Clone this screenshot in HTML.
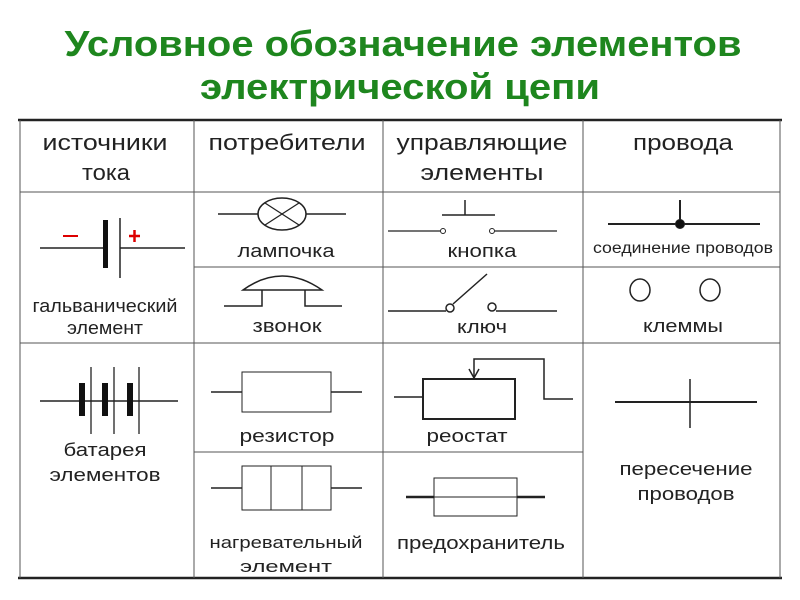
<!DOCTYPE html>
<html><head><meta charset="utf-8"><style>
body{margin:0;background:#fff;width:800px;height:600px;overflow:hidden}
svg{display:block}
text{font-family:"Liberation Sans",sans-serif;fill:#222}
</style></head><body>
<svg width="800" height="600" viewBox="0 0 800 600">
<g text-anchor="middle">
<text x="403" y="56" font-size="36" font-weight="bold" style="fill:#1e861e" textLength="677" lengthAdjust="spacingAndGlyphs">Условное обозначение элементов</text>
<text x="400" y="99" font-size="36" font-weight="bold" style="fill:#1e861e" textLength="400" lengthAdjust="spacingAndGlyphs">электрической цепи</text>
</g>
<g stroke="#222" fill="none">
<line x1="18" y1="120" x2="782" y2="120" stroke-width="2.5"/>
<line x1="18" y1="578" x2="782" y2="578" stroke-width="2.5"/>
<g stroke-width="1" stroke="#555">
<line x1="20" y1="120" x2="20" y2="578"/>
<line x1="780" y1="120" x2="780" y2="578"/>
<line x1="194" y1="120" x2="194" y2="578"/>
<line x1="383" y1="120" x2="383" y2="578"/>
<line x1="583" y1="120" x2="583" y2="578"/>
<line x1="20" y1="192" x2="780" y2="192"/>
<line x1="194" y1="267" x2="780" y2="267"/>
<line x1="20" y1="343" x2="780" y2="343"/>
<line x1="194" y1="452" x2="583" y2="452"/>
</g>
<line x1="40" y1="248" x2="105" y2="248" stroke-width="1.5"/>
<rect x="103" y="220" width="5" height="48" fill="#111" stroke="none"/>
<line x1="120" y1="218" x2="120" y2="278" stroke-width="1.5"/>
<line x1="120" y1="248" x2="185" y2="248" stroke-width="1.5"/>
<line x1="63" y1="236" x2="78" y2="236" stroke="#d00" stroke-width="2"/>
<line x1="129" y1="236" x2="140" y2="236" stroke="#d00" stroke-width="2.5"/>
<line x1="134.5" y1="230" x2="134.5" y2="242" stroke="#d00" stroke-width="2.5"/>
<line x1="218" y1="214" x2="258" y2="214" stroke-width="1.5"/>
<line x1="306" y1="214" x2="346" y2="214" stroke-width="1.5"/>
<ellipse cx="282" cy="214" rx="24" ry="16" stroke-width="1.5"/>
<line x1="265" y1="203" x2="299" y2="225" stroke-width="1.3"/>
<line x1="265" y1="225" x2="299" y2="203" stroke-width="1.3"/>
<path d="M243 290 Q282 262 322 290 Z" stroke-width="1.5"/>
<path d="M224 306 H262 V290 M305 290 V306 H342" stroke-width="1.5"/>
<line x1="388" y1="231" x2="440" y2="231" stroke-width="1.3"/>
<circle cx="443" cy="231" r="2.5" stroke-width="1"/>
<circle cx="492" cy="231" r="2.5" stroke-width="1"/>
<line x1="495" y1="231" x2="557" y2="231" stroke-width="1.3"/>
<line x1="442" y1="215" x2="495" y2="215" stroke-width="1.5"/>
<line x1="465" y1="200" x2="465" y2="215" stroke-width="1.5"/>
<line x1="388" y1="311" x2="446" y2="311" stroke-width="1.5"/>
<circle cx="450" cy="308" r="4" stroke-width="1.5"/>
<circle cx="492" cy="307" r="4" stroke-width="1.5"/>
<line x1="496" y1="311" x2="557" y2="311" stroke-width="1.5"/>
<line x1="453" y1="304" x2="487" y2="274" stroke-width="1.5"/>
<line x1="608" y1="224" x2="760" y2="224" stroke-width="2"/>
<line x1="680" y1="200" x2="680" y2="224" stroke-width="2"/>
<circle cx="680" cy="224" r="4.5" fill="#111"/>
<ellipse cx="640" cy="290" rx="10" ry="11" stroke-width="1.5"/>
<ellipse cx="710" cy="290" rx="10" ry="11" stroke-width="1.5"/>
<line x1="40" y1="401" x2="178" y2="401" stroke-width="1.5"/>
<rect x="79" y="383" width="6" height="33" fill="#111" stroke="none"/>
<rect x="102" y="383" width="6" height="33" fill="#111" stroke="none"/>
<rect x="127" y="383" width="6" height="33" fill="#111" stroke="none"/>
<line x1="91" y1="367" x2="91" y2="434" stroke-width="1.3"/>
<line x1="114" y1="367" x2="114" y2="434" stroke-width="1.3"/>
<line x1="139" y1="367" x2="139" y2="434" stroke-width="1.3"/>
<rect x="242" y="372" width="89" height="40" stroke-width="1"/>
<line x1="211" y1="392" x2="242" y2="392" stroke-width="1.5"/>
<line x1="331" y1="392" x2="362" y2="392" stroke-width="1.5"/>
<rect x="242" y="466" width="89" height="44" stroke-width="1"/>
<line x1="271" y1="466" x2="271" y2="510" stroke-width="1"/>
<line x1="302" y1="466" x2="302" y2="510" stroke-width="1"/>
<line x1="211" y1="488" x2="242" y2="488" stroke-width="1.5"/>
<line x1="331" y1="488" x2="362" y2="488" stroke-width="1.5"/>
<rect x="423" y="379" width="92" height="40" stroke-width="2"/>
<line x1="394" y1="397" x2="423" y2="397" stroke-width="1.5"/>
<path d="M474 378 V359 H544 V399 H573" stroke-width="1.5"/>
<path d="M469 369 L474 378 L479 369" stroke-width="1.5"/>
<rect x="434" y="478" width="83" height="38" stroke-width="1"/>
<line x1="434" y1="497" x2="517" y2="497" stroke-width="1"/>
<line x1="406" y1="497" x2="434" y2="497" stroke-width="2.5"/>
<line x1="517" y1="497" x2="545" y2="497" stroke-width="2.5"/>
<line x1="615" y1="402" x2="757" y2="402" stroke-width="2"/>
<line x1="690" y1="379" x2="690" y2="428" stroke-width="1.5"/>
</g>
<g text-anchor="middle" font-size="22">
<text x="105" y="150" textLength="125" lengthAdjust="spacingAndGlyphs">источники</text>
<text x="106" y="180" textLength="48" lengthAdjust="spacingAndGlyphs">тока</text>
<text x="287" y="150" textLength="157" lengthAdjust="spacingAndGlyphs">потребители</text>
<text x="482" y="150" textLength="171" lengthAdjust="spacingAndGlyphs">управляющие</text>
<text x="482" y="180" textLength="123" lengthAdjust="spacingAndGlyphs">элементы</text>
<text x="683" y="150" textLength="100" lengthAdjust="spacingAndGlyphs">провода</text>
</g>
<g text-anchor="middle" font-size="18.5">
<text x="105" y="312" textLength="145" lengthAdjust="spacingAndGlyphs">гальванический</text>
<text x="105" y="334" textLength="76" lengthAdjust="spacingAndGlyphs">элемент</text>
<text x="286" y="257" textLength="97" lengthAdjust="spacingAndGlyphs">лампочка</text>
<text x="287" y="332" textLength="69" lengthAdjust="spacingAndGlyphs">звонок</text>
<text x="482" y="257" textLength="69" lengthAdjust="spacingAndGlyphs">кнопка</text>
<text x="482" y="333" textLength="50" lengthAdjust="spacingAndGlyphs">ключ</text>
<text x="683" y="253" font-size="15.5" textLength="180" lengthAdjust="spacingAndGlyphs">соединение проводов</text>
<text x="683" y="332" textLength="80" lengthAdjust="spacingAndGlyphs">клеммы</text>
<text x="105" y="456" textLength="83" lengthAdjust="spacingAndGlyphs">батарея</text>
<text x="105" y="481" textLength="111" lengthAdjust="spacingAndGlyphs">элементов</text>
<text x="287" y="442" textLength="95" lengthAdjust="spacingAndGlyphs">резистор</text>
<text x="467" y="442" textLength="81" lengthAdjust="spacingAndGlyphs">реостат</text>
<text x="286" y="548" font-size="17" textLength="153" lengthAdjust="spacingAndGlyphs">нагревательный</text>
<text x="286" y="572" font-size="17" textLength="92" lengthAdjust="spacingAndGlyphs">элемент</text>
<text x="481" y="549" textLength="168" lengthAdjust="spacingAndGlyphs">предохранитель</text>
<text x="686" y="475" textLength="133" lengthAdjust="spacingAndGlyphs">пересечение</text>
<text x="686" y="500" textLength="97" lengthAdjust="spacingAndGlyphs">проводов</text>
</g>
</svg>
</body></html>
